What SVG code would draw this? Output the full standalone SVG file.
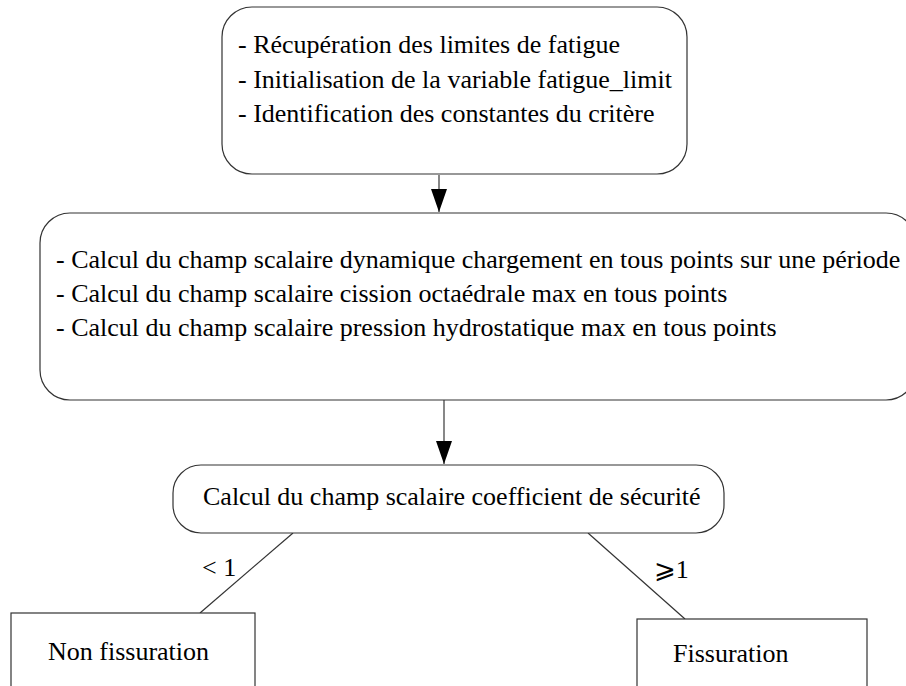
<svg xmlns="http://www.w3.org/2000/svg" width="906" height="686" viewBox="0 0 906 686">
  <style>
    .box { fill: #ffffff; stroke: #333333; stroke-width: 1.2; }
    .lbl { font-family: "Liberation Serif", "DejaVu Serif", "DejaVu Sans", serif; font-size: 26px; fill: #000000; }
    .link { fill: none; stroke: #333333; stroke-width: 1.2; }
    .arrow { stroke: #555555; stroke-width: 1.4; fill: none; }
  </style>
  <defs>
    <marker id="head" markerUnits="userSpaceOnUse" markerWidth="23" markerHeight="16" refX="23" refY="8" viewBox="0 0 23 16" orient="auto">
      <path d="M0,0 L23,8 L0,16 Z" fill="#000000"/>
    </marker>
  </defs>
  <rect width="906" height="686" fill="#ffffff"/>

  <!-- connectors -->
  <g id="connectors">
    <line class="arrow" x1="439" y1="175" x2="439" y2="212" marker-end="url(#head)"/>
    <line class="arrow" x1="444" y1="400" x2="444" y2="464" marker-end="url(#head)"/>
    <line class="link" x1="293" y1="533" x2="200" y2="613"/>
    <line class="link" x1="588" y1="533" x2="685" y2="619"/>
    <text class="lbl" x="202" y="576">&lt; 1</text>
    <text class="lbl" x="654" y="578">⩾1</text>
  </g>

  <!-- setup step -->
  <g id="init">
    <rect class="box" x="222" y="7" width="465" height="167" rx="30" ry="30"/>
    <text class="lbl" x="238" y="53">- Récupération des limites de fatigue</text>
    <text class="lbl" x="238" y="88">- Initialisation de la variable fatigue_limit</text>
    <text class="lbl" x="238" y="122">- Identification des constantes du critère</text>
  </g>

  <!-- scalar field computations -->
  <g id="fields">
    <rect class="box" x="40" y="213" width="876" height="187" rx="30" ry="30"/>
    <text class="lbl" x="56" y="268">- Calcul du champ scalaire dynamique chargement en tous points sur une période</text>
    <text class="lbl" x="56" y="302">- Calcul du champ scalaire cission octaédrale max en tous points</text>
    <text class="lbl" x="56" y="336">- Calcul du champ scalaire pression hydrostatique max en tous points</text>
  </g>

  <!-- safety factor -->
  <g id="safety">
    <rect class="box" x="173" y="465" width="551" height="68" rx="28" ry="28"/>
    <text class="lbl" x="203" y="505">Calcul du champ scalaire coefficient de sécurité</text>
  </g>

  <!-- outcomes -->
  <g id="no-crack">
    <rect class="box" x="11" y="613" width="244" height="100"/>
    <text class="lbl" x="48" y="660">Non fissuration</text>
  </g>
  <g id="crack">
    <rect class="box" x="637" y="619" width="230" height="100"/>
    <text class="lbl" x="673" y="662">Fissuration</text>
  </g>
</svg>
